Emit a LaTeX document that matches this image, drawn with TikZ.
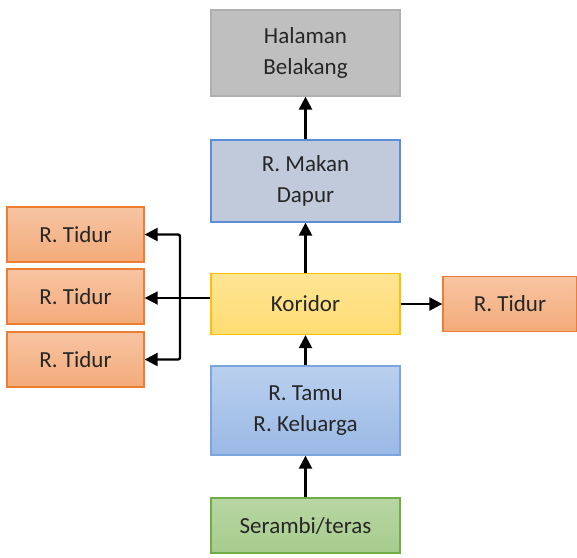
\documentclass[tikz,border=0pt]{standalone}
\usepackage{fontspec}
\setsansfont{Carlito}
\usepackage{tikz}
\usetikzlibrary{arrows.meta,positioning}

\begin{document}
\begin{tikzpicture}[
  x=1pt, y=-1pt,
  font=\sffamily\fontsize{23}{31}\selectfont,
  >={Triangle[length=13pt,width=13pt]},
  room/.style={draw, line width=1.3pt, minimum width=189pt, align=center,
    text=black!85, inner sep=2pt},
  bed/.style={room, draw=roomorange, top color=roomorange!45, bottom color=roomorange!65,
    minimum width=137pt, minimum height=55pt},
  flow/.style={->, line width=2.4pt},
  tap/.style={->, line width=1.8pt}
]
\definecolor{roomgray}{HTML}{A6A6A6}
\definecolor{roomblue}{HTML}{5B8ED6}
\definecolor{roomslate}{HTML}{C0CADA}
\definecolor{roomyellow}{HTML}{FFC000}
\definecolor{roomorange}{HTML}{ED7D31}
\definecolor{roomgreen}{HTML}{70AD47}

\useasboundingbox (0,0) rectangle (577,557);

% Central axis
\node[room, draw=roomgray!90, fill=black!25, minimum height=86pt] (halaman)
  at (305.5,53) {Halaman\\Belakang};
\node[room, draw=roomblue, fill=roomslate, minimum height=82pt] (makan)
  at (305.5,181) {R. Makan\\Dapur};
\node[room, draw=roomyellow, top color=roomyellow!42, bottom color=roomyellow!55,
  minimum height=61pt] (koridor) at (305.5,304) {Koridor};
\node[room, draw=roomblue!80, top color=roomblue!42, bottom color=roomblue!62,
  minimum height=89pt] (tamu) at (305.5,410.5) {R. Tamu\\R. Keluarga};
\node[room, draw=roomgreen, top color=roomgreen!50, bottom color=roomgreen!62,
  minimum height=55pt] (serambi) at (305.5,525.5) {Serambi/teras};

% Bedrooms
\node[bed] (tidurA) at (75.5,234.5) {R. Tidur};
\node[bed] (tidurB) at (75.5,296.5) {R. Tidur};
\node[bed] (tidurC) at (75.5,359.5) {R. Tidur};
\node[bed, minimum width=134pt] (tidurD) at (510,304) {R. Tidur};

\draw[flow] (serambi) -- (tamu);
\draw[flow] (tamu) -- (koridor);
\draw[flow] (koridor) -- (makan);
\draw[flow] (makan) -- (halaman);
\draw[flow] (koridor) -- (tidurD);

% Left branch
\coordinate (bus) at (180,298);
\draw[tap] (koridor.west |- bus) -- (tidurB.east |- bus);
\draw[flow, rounded corners=2pt] (bus) |- (tidurA);
\draw[flow, rounded corners=2pt] (bus) |- (tidurC);
\end{tikzpicture}
\end{document}
